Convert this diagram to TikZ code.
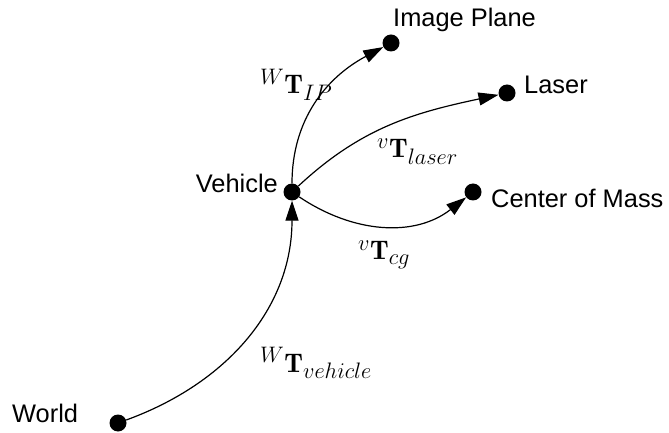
\RequirePackage{fix-cm}
\documentclass[tikz,border=0pt]{standalone}
\usepackage{fontspec}
\newfontfamily\labfont{Liberation Sans}
\DeclareMathSizes{27}{27}{22.5}{18}
\usetikzlibrary{arrows.meta}
\begin{document}
\begin{tikzpicture}[x=1bp,y=-1bp,
  dot/.style={circle,fill=black,inner sep=0pt,minimum size=17bp},
  lbl/.style={font=\labfont\fontsize{25.5}{30}\selectfont,inner sep=0pt},
  mlbl/.style={font=\fontsize{27}{32}\selectfont,inner sep=0pt},
  conn/.style={line width=1.2bp,-{Triangle[length=20bp,width=13bp]}}]
\useasboundingbox (0,0) rectangle (669,433);
\node[dot] (world) at (118,423) {};
\node[dot] (veh) at (292,192) {};
\node[dot] (ip) at (391,43) {};
\node[dot] (laser) at (507,93) {};
\node[dot] (com) at (473,192) {};
\node[lbl,anchor=base west] (tip) at (393,27) {Image Plane};
\node[lbl,anchor=base west] (tlaser) at (524,94) {Laser};
\node[lbl,anchor=base west] (tcom) at (491,208) {Center of Mass};
\node[lbl,anchor=base east] (tveh) at (278,193) {Vehicle};
\node[lbl,anchor=base west] (tworld) at (12,422) {World};
\node[mlbl,anchor=base west] (mip) at (260,94) {$^{W}\mathbf{T}_{IP}$};
\node[mlbl,anchor=base west] (mlaser) at (377,158) {$^{v}\mathbf{T}_{laser}$};
\node[mlbl,anchor=base west] (mcg) at (358,260) {$^{v}\mathbf{T}_{cg}$};
\node[mlbl,anchor=base west] (mveh) at (260,372) {$^{W}\mathbf{T}_{vehicle}$};
\draw[conn] (world) to[out=20,in=-90] (veh);
\draw[conn] (veh) to[out=90,in=208] (ip);
\draw[conn] (veh) to[out=43,in=192] (laser);
\draw[conn] (veh) to[out=-34,in=218] (com);
\end{tikzpicture}
\end{document}
